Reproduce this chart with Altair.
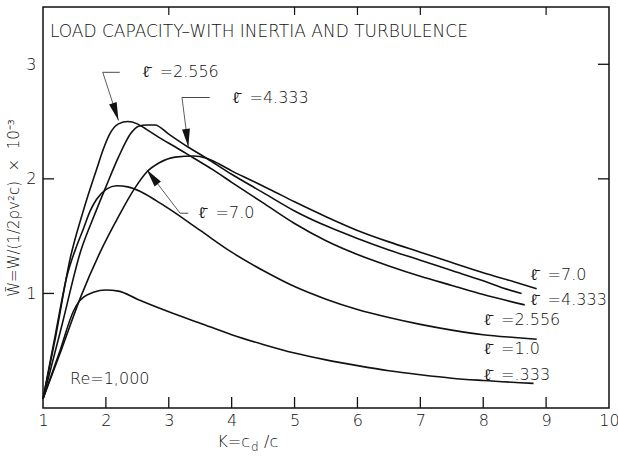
import math
import altair as alt
import pandas as pd

# ---------------- data ----------------
k_7 = [1.0, 1.3, 1.6, 1.9, 2.2, 2.45, 2.65, 2.85, 3.1, 3.4, 3.6, 3.8, 4.0, 4.3, 4.6, 5.0, 5.5, 6.0, 6.5, 7.0, 7.5, 8.0, 8.5, 8.85]
w_7 = [0.08, 0.52, 0.97, 1.35, 1.67, 1.91, 2.06, 2.14, 2.19, 2.20, 2.18, 2.13, 2.07, 1.99, 1.91, 1.80, 1.67, 1.55, 1.45, 1.36, 1.27, 1.18, 1.10, 1.04]

k_4333 = [1.0, 1.3, 1.6, 1.8, 2.0, 2.2, 2.4, 2.52, 2.65, 2.78, 3.0, 3.3, 3.6, 4.0, 4.5, 5.0, 5.5, 6.0, 6.5, 7.0, 7.5, 8.0, 8.3, 8.61]
w_4333 = [0.08, 0.72, 1.37, 1.66, 1.93, 2.19, 2.40, 2.46, 2.47, 2.47, 2.39, 2.28, 2.18, 2.04, 1.88, 1.72, 1.59, 1.48, 1.38, 1.29, 1.20, 1.11, 1.05, 1.00]

k_2556 = [1.0, 1.2, 1.43, 1.64, 1.85, 1.96, 2.06, 2.2, 2.35, 2.5, 2.65, 2.85, 3.1, 3.4, 3.7, 4.0, 4.5, 5.0, 5.5, 6.0, 6.5, 7.0, 7.5, 8.0, 8.66]
w_2556 = [0.08, 0.62, 1.30, 1.72, 2.08, 2.26, 2.39, 2.48, 2.50, 2.48, 2.43, 2.36, 2.28, 2.18, 2.08, 1.97, 1.79, 1.61, 1.46, 1.34, 1.24, 1.15, 1.07, 0.99, 0.90]

k_1 = [1.0, 1.2, 1.38, 1.54, 1.64, 1.75, 1.85, 2.01, 2.17, 2.35, 2.55, 2.8, 3.0, 3.5, 4.0, 4.5, 5.0, 5.5, 6.0, 6.5, 7.0, 7.5, 8.0, 8.5, 8.85]
w_1 = [0.08, 0.65, 1.15, 1.42, 1.56, 1.72, 1.82, 1.91, 1.94, 1.93, 1.89, 1.81, 1.74, 1.55, 1.36, 1.20, 1.06, 0.95, 0.86, 0.79, 0.73, 0.68, 0.64, 0.615, 0.60]

k_0333 = [1.0, 1.27, 1.48, 1.56, 1.65, 1.8, 2.0, 2.2, 2.5, 3.0, 3.5, 4.0, 4.5, 5.0, 5.5, 6.0, 6.5, 7.0, 7.5, 8.0, 8.8]
w_0333 = [0.08, 0.50, 0.84, 0.92, 0.97, 1.01, 1.03, 1.02, 0.95, 0.84, 0.74, 0.64, 0.555, 0.48, 0.42, 0.37, 0.325, 0.29, 0.26, 0.24, 0.215]

series_names = ["7.0", "4.333", "2.556", "1.0", ".333"]
series_k = [k_7, k_4333, k_2556, k_1, k_0333]
series_w = [w_7, w_4333, w_2556, w_1, w_0333]

ELL = "\u2113\u0304\u00a0\u00a0"
# end-of-curve labels
end_label_text = [ELL + "=7.0", ELL + "=4.333", ELL + "=2.556", ELL + "=1.0", ELL + "=.333"]
end_label_k = [8.74, 8.74, 8.0, 8.0, 8.0]
end_label_w = [1.16, 0.94, 0.77, 0.515, 0.29]

# arrow call-outs
call_text = [ELL + "=2.556", ELL + "=4.333", ELL + "=7.0"]
call_text_k = [2.57, 4.0, 3.46]
call_text_w = [2.93, 2.71, 1.70]
call_corner_k = [1.95, 3.21, 3.18]
call_corner_w = [2.93, 2.71, 1.70]
call_hend_k = [2.22, 3.65, 3.31]
call_tip_k = [2.20, 3.31, 2.65]
call_tip_w = [2.51, 2.28, 2.08]

x_ticks = [2, 3, 4, 5, 6, 7, 8, 9]
x_labels = [1, 2, 3, 4, 5, 6, 7, 8, 9, 10]
top_ticks = [3, 5, 6, 7, 9]
left_ticks = [1, 2]
right_ticks = [2, 3]
y_labels = [1, 2, 3]

title_text = "LOAD CAPACITY\u2013WITH INERTIA AND TURBULENCE"
re_text = "Re=1,000"
y_title = "W\u0304=W/(1/2\u03c1v\u00b2c)\u00a0\u00a0\u00d7\u00a0\u00a010\u207b\u00b3"

# ---------------- layout ----------------
W, H = 566, 401
X_DOM = [1, 10]
Y_DOM = [0, 3.5]
FONT = "DejaVu Sans"
FW = 200
INK = "#111111"

xs = alt.Scale(domain=X_DOM, nice=False, zero=False)
ys = alt.Scale(domain=Y_DOM, nice=False, zero=False)

rows = []
for name, ks, ws in zip(series_names, series_k, series_w):
    for i, (k, w) in enumerate(zip(ks, ws)):
        rows.append({"series": name, "K": k, "W": w, "i": i})
curves_df = pd.DataFrame(rows)

curves = alt.Chart(curves_df).mark_line(
    color=INK, strokeWidth=1.6, interpolate="monotone"
).encode(
    x=alt.X("K:Q", scale=xs, axis=alt.Axis(
        values=x_labels, format="d", ticks=False, domain=False, grid=False, labelFont=FONT,
        labelFontWeight=FW, labelFontSize=16, labelColor=INK, labelPadding=4, title=None,
        labelFlush=False)),
    y=alt.Y("W:Q", scale=ys, axis=alt.Axis(
        values=y_labels, format="d", ticks=False, domain=False, grid=False, labelFont=FONT,
        labelFontWeight=FW, labelFontSize=16, labelColor=INK, labelPadding=7, title=y_title,
        titleFont=FONT, titleFontSize=15, titleFontWeight=FW, titleColor=INK,
        titlePadding=4)),
    detail="series:N",
    order="i:Q",
)

# tick marks (inward)
bt = alt.Chart(pd.DataFrame({"K": x_ticks})).mark_rule(color=INK, strokeWidth=1.3).encode(
    x=alt.X("K:Q", scale=xs), y=alt.value(H), y2=alt.value(H - 11))
tt = alt.Chart(pd.DataFrame({"K": top_ticks})).mark_rule(color=INK, strokeWidth=1.2).encode(
    x=alt.X("K:Q", scale=xs), y=alt.value(0), y2=alt.value(8))
lt = alt.Chart(pd.DataFrame({"W": left_ticks})).mark_rule(color=INK, strokeWidth=1.3).encode(
    y=alt.Y("W:Q", scale=ys), x=alt.value(0), x2=alt.value(11))
rt = alt.Chart(pd.DataFrame({"W": right_ticks})).mark_rule(color=INK, strokeWidth=1.3).encode(
    y=alt.Y("W:Q", scale=ys), x=alt.value(W), x2=alt.value(W - 11))

txt = dict(align="left", baseline="middle", font=FONT, fontWeight=FW, fontSize=16, color=INK)

# end labels
end_df = pd.DataFrame({"t": end_label_text, "K": end_label_k, "W": end_label_w})
end_lbl = alt.Chart(end_df).mark_text(**txt).encode(
    x=alt.X("K:Q", scale=xs), y=alt.Y("W:Q", scale=ys), text="t:N")

# call-outs
pxk = W / (X_DOM[1] - X_DOM[0])
pxw = H / (Y_DOM[1] - Y_DOM[0])
angles = []
for ck, cw, tk, tw in zip(call_corner_k, call_corner_w, call_tip_k, call_tip_w):
    dx = (tk - ck) * pxk
    dy = -(tw - cw) * pxw
    angles.append(math.degrees(math.atan2(-dx, dy)) % 360)

call_df = pd.DataFrame({
    "t": call_text, "tk": call_text_k, "tw": call_text_w,
    "ck": call_corner_k, "cw": call_corner_w, "hk": call_hend_k,
    "pk": call_tip_k, "pw": call_tip_w, "ang": angles,
})
lead1 = alt.Chart(call_df).mark_rule(color="#333", strokeWidth=0.8).encode(
    x=alt.X("ck:Q", scale=xs), y=alt.Y("cw:Q", scale=ys),
    x2="pk:Q", y2="pw:Q")
lead2 = alt.Chart(call_df).mark_rule(color="#333", strokeWidth=0.9).encode(
    x=alt.X("ck:Q", scale=xs), y=alt.Y("cw:Q", scale=ys), x2="hk:Q")
heads = alt.Chart(call_df).mark_point(
    shape="M0,0L-0.22,-1L0.22,-1Z", filled=True, color=INK, opacity=1, size=1300
).encode(x=alt.X("pk:Q", scale=xs), y=alt.Y("pw:Q", scale=ys), angle=alt.Angle("ang:Q", scale=None))
call_lbl = alt.Chart(call_df).mark_text(**txt).encode(
    x=alt.X("tk:Q", scale=xs), y=alt.Y("tw:Q", scale=ys), text="t:N")

# title and Re text
title_df = pd.DataFrame({"t": [title_text], "K": [1.11], "W": [3.28]})
title_mark = alt.Chart(title_df).mark_text(
    align="left", baseline="middle", font=FONT, fontWeight=FW, fontSize=17, color=INK
).encode(x=alt.X("K:Q", scale=xs), y=alt.Y("W:Q", scale=ys), text="t:N")
re_df = pd.DataFrame({"t": [re_text], "K": [1.43], "W": [0.25]})
re_mark = alt.Chart(re_df).mark_text(**txt).encode(
    x=alt.X("K:Q", scale=xs), y=alt.Y("W:Q", scale=ys), text="t:N")

# x-axis title K = c_d / c (with subscript d)
xt_main = alt.Chart(pd.DataFrame({"t": ["K=c"]})).mark_text(
    align="right", baseline="middle", font=FONT, fontWeight=FW, fontSize=16, color=INK
).encode(x=alt.value(207), y=alt.value(H + 34), text="t:N")
xt_sub = alt.Chart(pd.DataFrame({"t": ["d"]})).mark_text(
    align="left", baseline="middle", font=FONT, fontWeight=FW, fontSize=12, color=INK
).encode(x=alt.value(208), y=alt.value(H + 39), text="t:N")
xt_end = alt.Chart(pd.DataFrame({"t": ["/c"]})).mark_text(
    align="left", baseline="middle", font=FONT, fontWeight=FW, fontSize=16, color=INK
).encode(x=alt.value(221), y=alt.value(H + 34), text="t:N")

chart = alt.layer(
    curves, bt, tt, lt, rt, end_lbl, lead1, lead2, heads, call_lbl, title_mark, re_mark,
    xt_main, xt_sub, xt_end,
).properties(
    width=W, height=H,
    padding={"left": 43, "top": 7, "right": 9, "bottom": 49},
    autosize=alt.AutoSizeParams(type="none"),
    background="white",
).configure_view(
    stroke=INK, strokeWidth=1.5
)

chart.save("out.html", embed_options={"renderer": "svg", "actions": False})
